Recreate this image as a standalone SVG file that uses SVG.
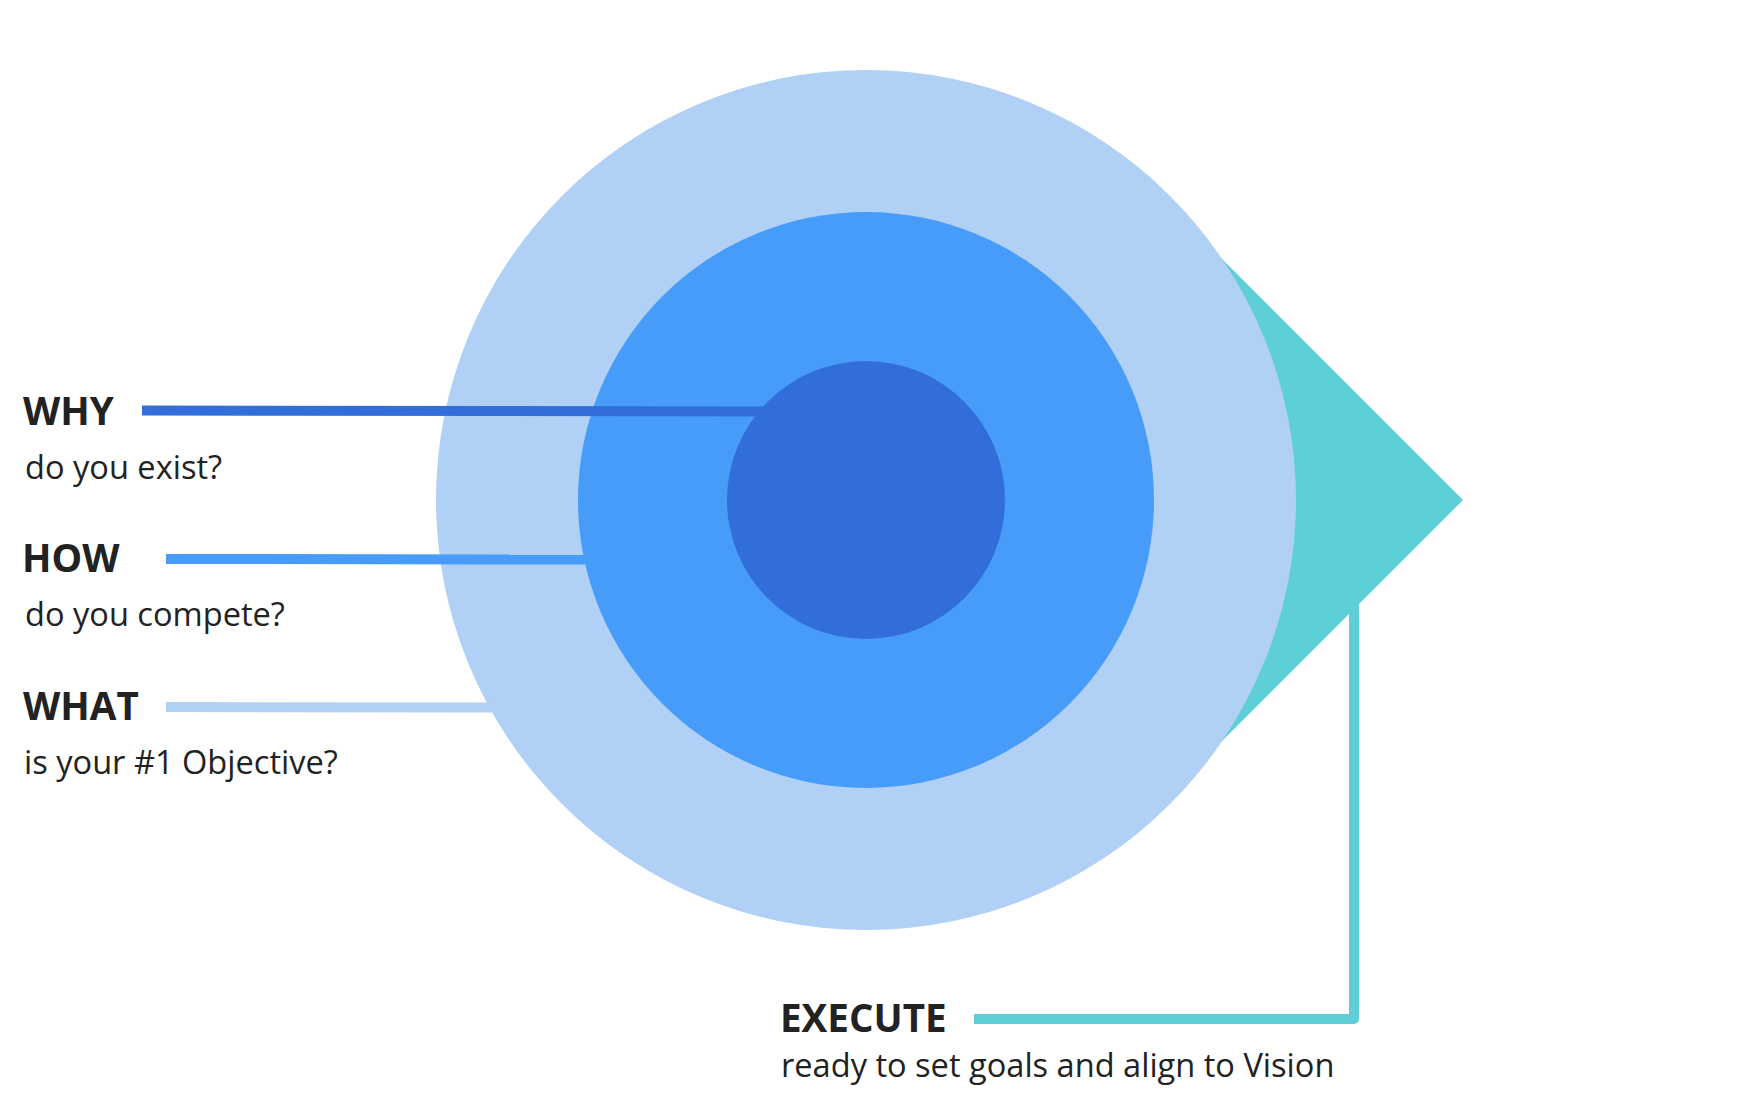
<svg xmlns="http://www.w3.org/2000/svg" width="1740" height="1108" viewBox="0 0 1740 1108">
<style>
.title{font-family:"Open Sans","Noto Sans","Liberation Sans",sans-serif;font-weight:700;font-size:38.6px;fill:#222222}
.sub{font-family:"Open Sans","Noto Sans","Liberation Sans",sans-serif;font-weight:400;font-size:32.6px;fill:#222222}
.conn{fill:none;stroke-width:10;stroke-linecap:butt}
</style>
<rect width="1740" height="1108" fill="#ffffff"/>
<g id="execute-arrow">
<polygon points="1463,500 1163,200 1163,800" fill="#5ECFD6"/>
</g>
<g id="what-ring">
<circle cx="866" cy="500" r="430" fill="#B0D0F5"/>
</g>
<g id="how-ring">
<circle cx="866" cy="500" r="288" fill="#469CF8"/>
</g>
<g id="why-core">
<circle cx="866" cy="500" r="139" fill="#326EDA"/>
</g>
<g id="connectors">
<path class="conn" d="M142 410.5 L770 411.5" stroke="#326EDA" stroke-width="9"/>
<path class="conn" d="M166 559 L595 559.5" stroke="#469CF8" stroke-width="9"/>
<path class="conn" d="M166 707 L500 707.5" stroke="#B0D0F5" stroke-width="9"/>
<path class="conn" d="M1354 600 L1354 1019 L974 1019" stroke="#5ECFD6" stroke-linejoin="round"/>
</g>
<g id="label-why">
<text class="title" x="23" y="425">WHY</text>
<text class="sub" x="25" y="479">do you exist?</text>
</g>
<g id="label-how">
<text class="title" x="22" y="572">HOW</text>
<text class="sub" x="25" y="626">do you compete?</text>
</g>
<g id="label-what">
<text class="title" x="23" y="720">WHAT</text>
<text class="sub" x="24" y="774">is your #1 Objective?</text>
</g>
<g id="label-execute">
<text class="title" x="780" y="1032">EXECUTE</text>
<text class="sub" x="781" y="1077">ready to set goals and align to Vision</text>
</g>
</svg>
